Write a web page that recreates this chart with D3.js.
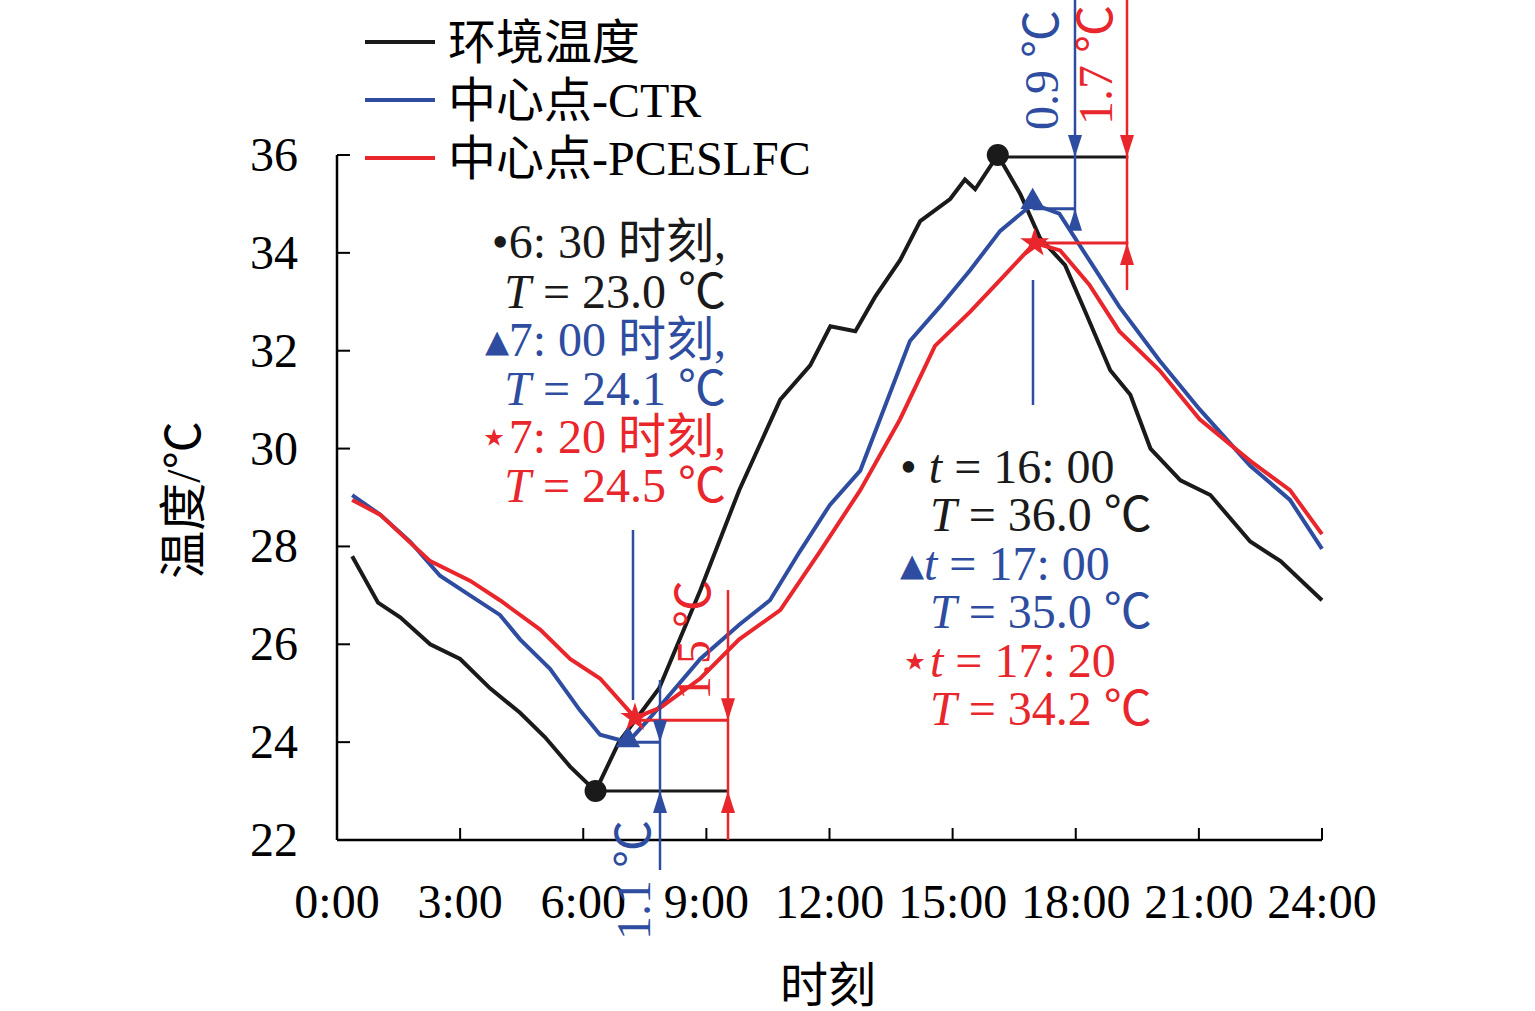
<!DOCTYPE html>
<html><head><meta charset="utf-8">
<script src="https://cdn.jsdelivr.net/npm/d3@7"></script>
<style>body{margin:0;background:#fff}text{font-family:"Liberation Serif","Noto Sans CJK SC",serif}</style>
</head><body><svg id="c" width="1535" height="1011"></svg>
<script>
// hours, temperature
const envHours = [0.37,1.0,1.54,2.27,3.0,3.73,4.46,5.07,5.68,6.3,6.87,7.85,8.85,9.8,10.8,11.53,12.02,12.63,13.11,13.72,14.21,14.94,15.3,15.55,16.1,16.65,17.13,17.74,18.23,18.84,19.33,19.82,20.55,21.28,22.25,22.99,24.0];
const envTemp  = [27.8,26.85,26.55,26.0,25.7,25.1,24.6,24.1,23.5,23.0,24.0,25.1,27.1,29.15,31.0,31.7,32.5,32.4,33.1,33.85,34.65,35.1,35.5,35.3,36.0,35.2,34.3,33.75,32.8,31.6,31.1,30.0,29.35,29.05,28.1,27.7,26.9];
const ctrHours = [0.37,1.05,1.78,2.51,3.24,3.97,4.46,5.19,5.92,6.41,7.09,7.63,8.85,9.8,10.55,11.28,12.01,12.75,13.23,13.96,14.69,15.43,16.16,16.95,17.6,18.33,19.06,20.04,21.02,22.25,23.22,24.0];
const ctrTemp  = [29.05,28.65,28.1,27.4,27.0,26.6,26.1,25.5,24.65,24.15,24.0,24.5,25.7,26.4,26.9,27.9,28.85,29.55,30.6,32.2,32.9,33.65,34.45,35.0,34.8,33.85,32.9,31.8,30.8,29.65,28.95,27.95];
const pcHours  = [0.37,1.05,2.27,3.24,3.97,4.95,5.68,6.41,7.26,7.87,8.85,9.8,10.8,11.77,12.75,13.72,14.57,15.43,16.16,17.0,17.62,18.33,19.06,20.04,21.02,22.25,23.22,24.0];
const pcTemp   = [28.95,28.65,27.7,27.3,26.9,26.3,25.7,25.3,24.5,24.7,25.3,26.1,26.7,27.9,29.15,30.6,32.1,32.8,33.45,34.2,34.05,33.35,32.4,31.6,30.6,29.75,29.15,28.25];
const xTicks = ["0:00","3:00","6:00","9:00","12:00","15:00","18:00","21:00","24:00"];
const yTicks = [22,24,26,28,30,32,34,36];
const legendNames = ["环境温度","中心点-CTR","中心点-PCESLFC"];
const colors = ["#1a1a1a","#2f4da0","#e8262b"];

const svg = d3.select("#c");
const x = d3.scaleLinear().domain([0,24]).range([337,1322]);
const y = d3.scaleLinear().domain([22,36]).range([840,155]);
const fs = 48;

// axes
svg.append("line").attr("x1",337).attr("x2",1322).attr("y1",840).attr("y2",840).attr("stroke","#000").attr("stroke-width",2.5);
svg.append("line").attr("x1",337).attr("x2",337).attr("y1",155).attr("y2",840).attr("stroke","#000").attr("stroke-width",2.5);
xTicks.forEach((t,i)=>{
  svg.append("line").attr("x1",x(i*3)).attr("x2",x(i*3)).attr("y1",840).attr("y2",828).attr("stroke","#000").attr("stroke-width",2);
  svg.append("text").attr("x",x(i*3)).attr("y",918).attr("text-anchor","middle").attr("font-size",fs).text(t);
});
yTicks.forEach(v=>{
  svg.append("line").attr("x1",337).attr("x2",350).attr("y1",y(v)).attr("y2",y(v)).attr("stroke","#000").attr("stroke-width",2);
  svg.append("text").attr("x",298).attr("y",y(v)+16).attr("text-anchor","end").attr("font-size",fs).text(v);
});
svg.append("text").attr("transform","translate(200,500) rotate(-90)").attr("text-anchor","middle").attr("font-size",fs).text("温度/℃");
svg.append("text").attr("x",828).attr("y",1002).attr("text-anchor","middle").attr("font-size",fs).text("时刻");

// series
const line = d3.line().x(d=>x(d[0])).y(d=>y(d[1]));
[[envHours,envTemp],[ctrHours,ctrTemp],[pcHours,pcTemp]].forEach((s,i)=>{
  svg.append("path").attr("d",line(d3.zip(s[0],s[1]))).attr("fill","none").attr("stroke",colors[i]).attr("stroke-width",4);
});

// legend
legendNames.forEach((n,i)=>{
  const ly=42+i*58;
  svg.append("line").attr("x1",365).attr("x2",435).attr("y1",ly).attr("y2",ly).attr("stroke",colors[i]).attr("stroke-width",4);
  svg.append("text").attr("x",448).attr("y",ly+17).attr("font-size",fs).text(n);
});

// markers
function dot(h,t){svg.append("circle").attr("cx",x(h)).attr("cy",y(t)).attr("r",11).attr("fill","#1a1a1a");}
function tri(h,t){svg.append("path").attr("d",d3.symbol(d3.symbolTriangle,260)()).attr("transform",`translate(${x(h)},${y(t)-2})`).attr("fill",colors[1]);}
function star(h,t){svg.append("path").attr("d",d3.symbol(d3.symbolStar,260)()).attr("transform",`translate(${x(h)},${y(t)})`).attr("fill",colors[2]);}
function hl(h1,h2,t,c){svg.append("line").attr("x1",x(h1)).attr("x2",x(h2)).attr("y1",y(t)).attr("y2",y(t)).attr("stroke",c).attr("stroke-width",3);}
function vl(px,y1,y2,c){svg.append("line").attr("x1",px).attr("x2",px).attr("y1",y1).attr("y2",y2).attr("stroke",c).attr("stroke-width",2.5);}
function arrow(px,py,dir,c){ // dir 1 = pointing down, -1 = pointing up
  svg.append("path").attr("d",`M${px},${py}L${px-7},${py-22*dir}L${px+7},${py-22*dir}Z`).attr("fill",c);
}
// left group
hl(6.3,9.55,23.0,colors[0]); hl(7.09,7.85,24.0,colors[1]); hl(7.26,9.55,24.45,colors[2]);
dot(6.3,23.0); tri(7.09,24.0); star(7.26,24.5);
vl(633,530,700,colors[1]);
vl(660,680,870,colors[1]); arrow(660,y(24.0),1,colors[1]); arrow(660,y(23.0),-1,colors[1]);
vl(728,590,840,colors[2]); arrow(728,y(24.45),1,colors[2]); arrow(728,y(23.0),-1,colors[2]);
svg.append("text").attr("transform","translate(650,880) rotate(-90)").attr("text-anchor","middle").attr("font-size",fs).attr("fill",colors[1]).text("1.1 ℃");
svg.append("text").attr("transform","translate(710,640) rotate(-90)").attr("text-anchor","middle").attr("font-size",fs).attr("fill",colors[2]).text("1.5 ℃");
// right group
hl(16.1,19.28,35.96,colors[0]); hl(16.95,18.0,34.9,colors[1]); hl(17.0,19.28,34.2,colors[2]);
dot(16.1,36.0); tri(16.95,35.0); star(17.0,34.2);
vl(1033,280,405,colors[1]);
vl(1075,0,230,colors[1]); arrow(1075,y(35.96),1,colors[1]); arrow(1075,y(34.9),-1,colors[1]);
vl(1127,0,290,colors[2]); arrow(1127,y(35.96),1,colors[2]); arrow(1127,y(34.2),-1,colors[2]);
svg.append("text").attr("transform","translate(1058,70) rotate(-90)").attr("text-anchor","middle").attr("font-size",fs).attr("fill",colors[1]).text("0.9 ℃");
svg.append("text").attr("transform","translate(1112,65) rotate(-90)").attr("text-anchor","middle").attr("font-size",fs).attr("fill",colors[2]).text("1.7 ℃");

// annotation texts
function ann(xr,yb,parts,c,anchor){
  const t=svg.append("text").attr("x",xr).attr("y",yb).attr("font-size",fs).attr("fill",c).attr("text-anchor",anchor);
  parts.forEach(p=>t.append("tspan").attr("font-style",p[1]?"italic":null).text(p[0]));
}
const L=726;
ann(L,258,[["•6: 30 时刻,"]],colors[0],"end");
ann(L,308,[["T",1],[" = 23.0 ℃"]],colors[0],"end");
ann(L,356,[["▴7: 00 时刻,"]],colors[1],"end");
ann(L,405,[["T",1],[" = 24.1 ℃"]],colors[1],"end");
ann(L,453,[["⋆7: 20 时刻,"]],colors[2],"end");
ann(L,502,[["T",1],[" = 24.5 ℃"]],colors[2],"end");
ann(900,483,[["• "],["t",1],[" = 16: 00"]],colors[0],"start");
ann(930,531,[["T",1],[" = 36.0 ℃"]],colors[0],"start");
ann(900,580,[["▴"],["t",1],[" = 17: 00"]],colors[1],"start");
ann(930,628,[["T",1],[" = 35.0 ℃"]],colors[1],"start");
ann(900,677,[["⋆"],["t",1],[" = 17: 20"]],colors[2],"start");
ann(930,725,[["T",1],[" = 34.2 ℃"]],colors[2],"start");
</script></body></html>
